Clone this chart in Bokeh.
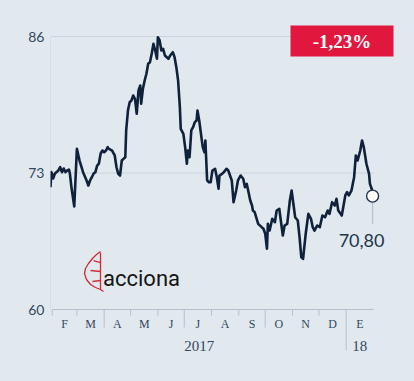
from datetime import datetime, timedelta
from bokeh.plotting import figure
from bokeh.models import Range1d, FixedTicker
from bokeh.core.properties import value
from bokeh.embed import file_html
from bokeh.resources import INLINE

# ---------------- data ----------------
dates = [
    "2017-01-30", "2017-01-31", "2017-02-02", "2017-02-04", "2017-02-08", "2017-02-10", "2017-02-12",
    "2017-02-14", "2017-02-16", "2017-02-18", "2017-02-20", "2017-02-21", "2017-02-23", "2017-02-26",
    "2017-03-01", "2017-03-04", "2017-03-08", "2017-03-12", "2017-03-14", "2017-03-16", "2017-03-18",
    "2017-03-20", "2017-03-22", "2017-03-24", "2017-03-26", "2017-03-28", "2017-03-30", "2017-04-01",
    "2017-04-03", "2017-04-05", "2017-04-06", "2017-04-10", "2017-04-12", "2017-04-13", "2017-04-15",
    "2017-04-17", "2017-04-19", "2017-04-21", "2017-04-23", "2017-04-25", "2017-04-26", "2017-04-28",
    "2017-04-30", "2017-05-02", "2017-05-04", "2017-05-06", "2017-05-08", "2017-05-10", "2017-05-12",
    "2017-05-13", "2017-05-15", "2017-05-17", "2017-05-19", "2017-05-21", "2017-05-23", "2017-05-25",
    "2017-05-27", "2017-05-29", "2017-05-31", "2017-06-01", "2017-06-03", "2017-06-05", "2017-06-07",
    "2017-06-09", "2017-06-13", "2017-06-15", "2017-06-18", "2017-06-20", "2017-06-22", "2017-06-24",
    "2017-06-26", "2017-06-27", "2017-06-30", "2017-07-02", "2017-07-04", "2017-07-05", "2017-07-07",
    "2017-07-09", "2017-07-11", "2017-07-13", "2017-07-15", "2017-07-16", "2017-07-18", "2017-07-20",
    "2017-07-22", "2017-07-24", "2017-07-25", "2017-07-27", "2017-07-29", "2017-07-31", "2017-08-02",
    "2017-08-05", "2017-08-07", "2017-08-09", "2017-08-10", "2017-08-13", "2017-08-15", "2017-08-18",
    "2017-08-20", "2017-08-24", "2017-08-26", "2017-08-29", "2017-08-31", "2017-09-03", "2017-09-06",
    "2017-09-08", "2017-09-10", "2017-09-14", "2017-09-16", "2017-09-17", "2017-09-19", "2017-09-23",
    "2017-09-27", "2017-09-29", "2017-10-01", "2017-10-03", "2017-10-04", "2017-10-06", "2017-10-09",
    "2017-10-12", "2017-10-14", "2017-10-17", "2017-10-19", "2017-10-21", "2017-10-23", "2017-10-26",
    "2017-10-29", "2017-10-31", "2017-11-02", "2017-11-04", "2017-11-07", "2017-11-09", "2017-11-11",
    "2017-11-13", "2017-11-16", "2017-11-19", "2017-11-22", "2017-11-24", "2017-11-26", "2017-11-29",
    "2017-12-02", "2017-12-05", "2017-12-08", "2017-12-11", "2017-12-13", "2017-12-16", "2017-12-19",
    "2017-12-21", "2017-12-23", "2017-12-27", "2017-12-31", "2018-01-02", "2018-01-04", "2018-01-07",
    "2018-01-10", "2018-01-12", "2018-01-14", "2018-01-17", "2018-01-19", "2018-01-21", "2018-01-24",
    "2018-01-27", "2018-01-28", "2018-01-30", "2018-01-31",
]
prices = [
    71.65, 73.08, 72.48, 72.95, 73.24, 73.55, 73.08,
    73.43, 73.08, 73.24, 73.33, 72.95, 71.52, 69.81,
    75.30, 74.19, 73.08, 72.29, 71.81, 72.29, 72.60,
    72.95, 73.08, 73.71, 73.90, 74.86, 75.14, 74.98,
    75.14, 75.46, 75.33, 75.14, 74.83, 74.67, 73.55,
    72.92, 72.76, 74.19, 74.35, 74.50, 77.05, 78.95,
    79.74, 79.90, 80.38, 80.07, 78.64, 80.86, 81.33,
    79.59, 81.02, 81.81, 82.45, 83.40, 83.55, 84.35,
    85.30, 84.67, 83.88, 85.93, 85.62, 84.67, 84.83,
    84.19, 83.88, 84.19, 84.50, 84.03, 83.08, 81.81,
    79.27, 77.21, 76.73, 75.46, 73.88, 75.14, 74.50,
    77.05, 77.36, 77.84, 78.00, 78.95, 78.00, 76.73,
    75.46, 74.98, 76.10, 72.29, 72.12, 72.12, 73.24,
    73.40, 72.60, 71.50, 72.76, 72.92, 73.08, 73.40,
    73.24, 72.29, 70.22, 71.33, 72.29, 72.76, 72.45,
    71.65, 71.97, 70.38, 69.90, 69.43, 69.27, 68.16,
    67.84, 67.69, 67.21, 65.78, 68.16, 67.52, 68.64,
    68.31, 69.43, 69.59, 68.31, 67.05, 68.00, 68.16,
    70.38, 71.33, 70.07, 68.79, 68.48, 66.89, 64.98,
    64.83, 67.21, 69.11, 68.64, 67.84, 67.52, 68.00,
    67.84, 68.95, 68.79, 69.43, 69.11, 70.22, 69.90,
    70.54, 69.43, 68.95, 70.86, 71.17, 70.86, 71.33,
    72.60, 74.67, 74.19, 75.14, 76.10, 75.46, 73.88,
    72.92, 71.97, 71.50, 70.80,
]
month_labels = ["F", "M", "A", "M", "J", "J", "A", "S", "O", "N", "D", "E"]
month_starts = ["2017-02-01", "2017-03-01", "2017-04-01", "2017-05-01", "2017-06-01", "2017-07-01",
                "2017-08-01", "2017-09-01", "2017-10-01", "2017-11-01", "2017-12-01", "2018-01-01",
                "2018-02-01"]
quarter_months = ["2017-04-01", "2017-07-01", "2017-10-01"]
year_labels = ["2017", "18"]
year_bounds = ["2017-02-01", "2018-01-01", "2018-02-01"]
y_ticks = [60, 73, 86]
change_pct = -1.23

# ---------------- style / layout ----------------
BG = "#e1e8ee"
LINE = "#10213b"
TXT = "#34495e"
GRID = "#cad5df"
AXIS = "#b3c1ce"
RED = "#e2173e"

W, H = 414, 381
LEFT = 50
FRAME_W = W - LEFT
PXD = 0.88      # pixels per day
PXU = 10.5      # pixels per price unit
TOP_PX = 36     # px of top tick

to_dt = lambda s: datetime.strptime(s, "%Y-%m-%d")
xd = [to_dt(s) for s in dates]
ms = [to_dt(s) for s in month_starts]

x0 = xd[0]
x1 = x0 + timedelta(days=FRAME_W / PXD)
y_top = max(y_ticks) + TOP_PX / PXU
y_bot = y_top - H / PXU


def fx(px):  # page px -> date
    return x0 + timedelta(days=(px - LEFT) / PXD)


def fy(py):  # page px -> value
    return y_top - py / PXU


p = figure(width=W, height=H, output_backend="svg", toolbar_location=None,
           x_axis_type="datetime", x_axis_location=None,
           x_range=Range1d(x0, x1), y_range=Range1d(y_bot, y_top),
           background_fill_color=BG, border_fill_color=BG, outline_line_color=None)
p.min_border = 0
p.min_border_left = LEFT
p.grid.visible = False

ya = p.yaxis[0]
ya.ticker = FixedTicker(ticks=y_ticks)
ya.axis_line_color = None
ya.major_tick_line_color = None
ya.minor_tick_line_color = None
ya.major_tick_out = 0
ya.major_tick_in = 0
ya.major_label_standoff = 6
ya.major_label_text_font = "Lato"
ya.major_label_text_font_size = "14px"
ya.major_label_text_color = TXT

ymin = min(y_ticks)
# grid lines & y axis line
p.segment(x0=[x0] * 2, x1=[ms[-1]] * 2, y0=y_ticks[1:], y1=y_ticks[1:], line_color=GRID, line_width=1)
p.segment(x0=[x0], x1=[x0], y0=[ymin], y1=[max(y_ticks)], line_color=GRID, line_width=1)
# bottom axis
p.segment(x0=[ms[0]], x1=[ms[-1]], y0=[ymin], y1=[ymin], line_color=AXIS, line_width=1.2)
tick_len = []
for s in month_starts[:-1]:
    if s == year_bounds[1]:
        tick_len.append(41)
    elif s in quarter_months:
        tick_len.append(18)
    else:
        tick_len.append(6)
p.segment(x0=ms[:-1], x1=ms[:-1], y0=[ymin] * 12, y1=[ymin - L / PXU for L in tick_len],
          line_color=AXIS, line_width=1)

mid_months = [a + (b - a) / 2 for a, b in zip(ms[:-1], ms[1:])]
p.text(x=mid_months, y=[ymin - 14.3 / PXU] * 12, text=month_labels,
       text_font=value("Liberation Serif"), text_font_size="12px", text_color=TXT,
       text_align="center", text_baseline="middle")
yb = [to_dt(s) for s in year_bounds]
mid_years = [a + (b - a) / 2 for a, b in zip(yb[:-1], yb[1:])]
p.text(x=mid_years, y=[ymin - 36.5 / PXU] * 2, text=year_labels,
       text_font=value("Liberation Serif"), text_font_size="15px", text_color=TXT,
       text_align="center", text_baseline="middle")

# price line
p.line(xd, prices, line_color=LINE, line_width=2.6, line_join="round")

# end marker + label
p.segment(x0=[xd[-1]], x1=[xd[-1]], y0=[prices[-1]], y1=[prices[-1] - 28 / PXU],
          line_color=AXIS, line_width=1.2)
p.scatter([xd[-1]], [prices[-1]], size=12, fill_color="white", line_color="#22364d", line_width=1.4)
p.text(x=[xd[-1] - timedelta(days=11 / PXD)], y=[prices[-1] - 44 / PXU],
       text=[f"{prices[-1]:.2f}".replace(".", ",")],
       text_font=value("Lato"), text_font_size="18px", text_color="#22364d",
       text_align="center", text_baseline="middle")

# badge
p.quad(left=[fx(290)], right=[fx(393)], top=[fy(25)], bottom=[fy(56)], fill_color=RED, line_color=None)
p.text(x=[fx(341.5)], y=[fy(41)], text=[f"{change_pct:.2f}%".replace(".", ",")],
       text_font=value("Liberation Serif"), text_font_size="19px", text_font_style="bold",
       text_color="white", text_align="center", text_baseline="middle")

# logo
leaf_outline = [(100, 251), (96, 254), (92, 258), (88, 263), (85, 268), (84, 273), (86, 279),
                (90, 284), (95, 287), (100, 289)]
veins = [[(100, 252), (100, 289), (103, 291)], [(100, 262), (93, 260)], [(100, 271), (90, 270)],
         [(100, 280), (92, 281)]]
lines = [leaf_outline] + veins
p.multi_line(xs=[[fx(a) for a, b in l] for l in lines], ys=[[fy(b) for a, b in l] for l in lines],
             line_color="#d22a33", line_width=1.3)
p.text(x=[fx(102.5)], y=[fy(277.5)], text=["acciona"], text_font=value("Roboto"),
       text_font_size="22px", text_color="#151515", text_align="left", text_baseline="alphabetic")

html = file_html(p, INLINE)
html = html.replace("</head>", "<style>html,body{background:%s;}</style></head>" % BG, 1)
open("out.html", "w").write(html)
